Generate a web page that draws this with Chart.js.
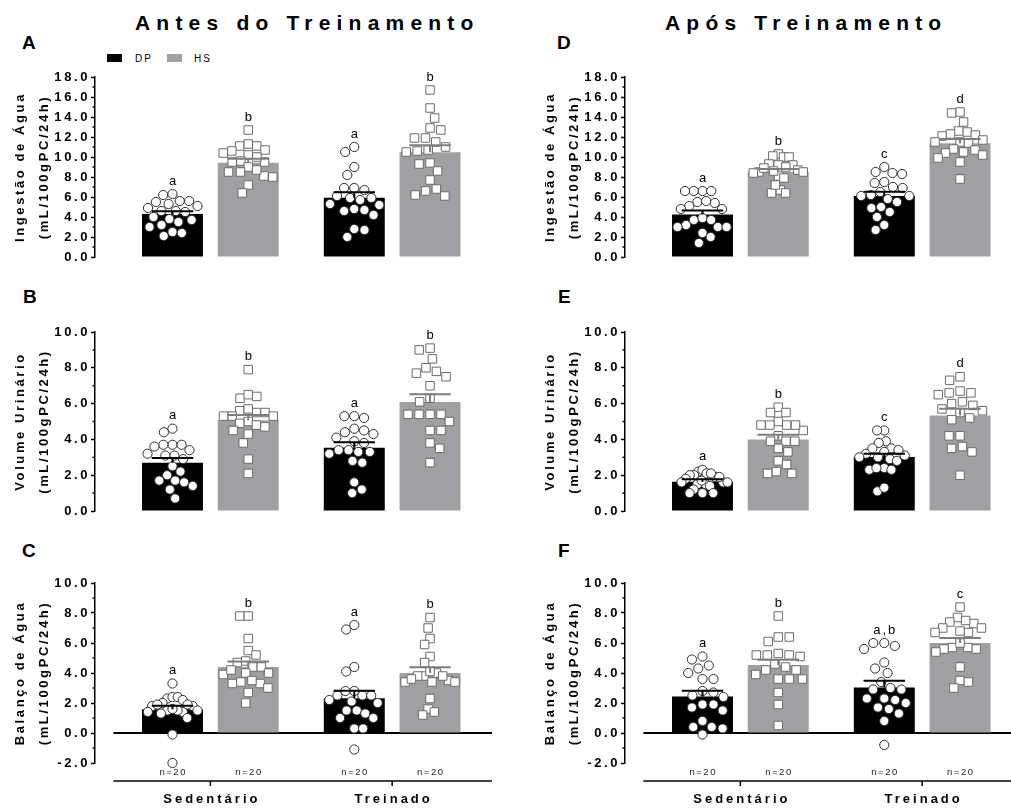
<!DOCTYPE html>
<html lang="pt">
<head>
<meta charset="utf-8">
<title>Ingestão de água, volume urinário e balanço de água</title>
<script src="https://cdn.jsdelivr.net/npm/chart.js@4.4.1/dist/chart.umd.min.js"></script>
<style>
  html, body { margin: 0; padding: 0; overflow: hidden; background: #fff; }
  body { position: relative; width: 1011px; height: 809px; font-family: 'Liberation Sans', Arial, sans-serif; color: #000; }
  canvas { position: absolute; }
  .head { position: absolute; top: 12px; font-size: 21px; font-weight: bold; line-height: 21px; letter-spacing: 6.2px; white-space: nowrap; }
  .tag { position: absolute; font-size: 19px; font-weight: bold; line-height: 19px; }
  .key { position: absolute; top: 54px; width: 15px; height: 8px; }
  .keytxt { position: absolute; top: 53px; font-size: 10px; line-height: 12px; letter-spacing: 2px; color: #000; }
</style>
</head>
<body>
<div class="head" style="left:135px">Antes do Treinamento</div>
<div class="head" style="left:665px">Após Treinamento</div>

<div class="tag" style="left:22px;top:33px">A</div>
<div class="tag" style="left:23px;top:287px">B</div>
<div class="tag" style="left:22px;top:541px">C</div>
<div class="tag" style="left:557px;top:33px">D</div>
<div class="tag" style="left:558px;top:287px">E</div>
<div class="tag" style="left:558px;top:541px">F</div>

<div class="key" style="left:107px;background:#000"></div>
<div class="keytxt" style="left:135px">DP</div>
<div class="key" style="left:167px;background:#a0a0a4"></div>
<div class="keytxt" style="left:194px">HS</div>

<canvas id="cA" width="500" height="210" style="left:0;top:60px"></canvas>
<canvas id="cD" width="500" height="210" style="left:530px;top:60px"></canvas>
<canvas id="cB" width="500" height="205" style="left:0;top:315px"></canvas>
<canvas id="cE" width="500" height="205" style="left:530px;top:315px"></canvas>
<canvas id="cC" width="500" height="243" style="left:0;top:566px"></canvas>
<canvas id="cF" width="500" height="243" style="left:530px;top:566px"></canvas>

<script>
// categorias
const groups = ['Sedentário', 'Treinado'];
const series = ['DP', 'HS'];
const counts = ['n=20', 'n=20', 'n=20', 'n=20'];

const intakeTitle = ['Ingestão de Água', '(mL/100gPC/24h)'];
const urineTitle = ['Volume Urinário', '(mL/100gPC/24h)'];
const balanceTitle = ['Balanço de Água', '(mL/100gPC/24h)'];

// ordem das barras: DP-Sed, HS-Sed, DP-Tre, HS-Tre
// A - ingestão, antes do treinamento
const aMean = [4.3, 9.43, 5.93, 10.47];
const aSem = [0.27, 0.4, 0.55, 0.7];
const aLetters = ['a', 'b', 'a', 'b'];
const aDpSed = [6.2, 6.3, 5.6, 5.3, 5.1, 5.5, 5.6, 4.9, 4.6, 4.6, 4.5, 4.0, 3.7, 3.5, 3.8, 3.2, 3.0, 2.5, 2.4, 2.1];
const aHsSed = [12.7, 11.1, 11.1, 11.3, 10.2, 10.6, 10.7, 10.4, 9.6, 9.5, 9.5, 10.0, 9.0, 8.5, 8.1, 8.0, 8.5, 8.7, 7.2, 6.4];
const aDpTre = [11.0, 10.5, 9.0, 8.2, 6.7, 6.9, 6.9, 6.1, 5.9, 5.7, 5.9, 5.3, 5.2, 4.8, 4.6, 4.7, 4.2, 2.8, 2.7, 2.0];
const aHsTre = [16.7, 14.9, 13.9, 12.9, 12.7, 11.5, 11.9, 11.9, 10.5, 10.7, 11.0, 10.6, 9.3, 9.4, 8.6, 7.7, 6.6, 6.8, 6.1, 6.2];

// B - volume urinário, antes
const bMean = [2.7, 5.07, 3.54, 6.09];
const bSem = [0.26, 0.3, 0.3, 0.43];
const bLetters = ['a', 'b', 'a', 'b'];
const bDpSed = [4.6, 4.4, 3.7, 3.4, 3.7, 3.6, 3.7, 3.1, 3.1, 3.2, 2.9, 2.2, 2.5, 1.7, 1.6, 1.4, 1.2, 2.0, 0.7, 1.7];
const bHsSed = [7.9, 6.4, 6.3, 6.5, 5.6, 5.5, 5.5, 5.7, 5.3, 5.0, 4.8, 4.7, 4.9, 5.3, 5.3, 4.5, 4.3, 3.8, 2.9, 2.1];
const bDpTre = [5.3, 5.3, 5.2, 4.6, 4.5, 4.4, 4.3, 4.1, 3.8, 3.9, 3.4, 3.3, 3.2, 3.3, 3.4, 2.8, 2.7, 1.6, 1.2, 1.0];
const bHsTre = [9.1, 9.0, 8.5, 8.0, 7.7, 7.8, 7.5, 7.0, 6.3, 6.1, 5.4, 5.4, 5.4, 5.4, 5.0, 4.5, 4.5, 3.8, 3.5, 2.7];

// C - balanço, antes
const cMean = [1.58, 4.4, 2.31, 4.0];
const cSem = [0.24, 0.36, 0.5, 0.38];
const cLetters = ['a', 'b', 'a', 'b'];
const cDpSed = [3.3, 2.3, 2.4, 2.4, 2.0, 2.2, 1.8, 1.8, 1.9, 1.9, 1.4, 1.5, 1.4, 1.5, 1.5, 1.3, 1.0, 1.6, -0.1, -2.0];
const cHsSed = [7.8, 7.8, 6.3, 5.5, 5.2, 4.7, 4.8, 4.4, 4.4, 4.0, 3.9, 4.0, 4.2, 3.4, 3.3, 3.0, 3.3, 3.5, 2.7, 2.0];
const cDpTre = [7.2, 6.9, 4.1, 4.4, 2.8, 2.8, 2.5, 2.5, 2.5, 2.0, 2.2, 2.1, 1.5, 1.3, 1.5, 1.0, 1.0, 0.3, 0.3, -1.1];
const cHsTre = [7.7, 7.0, 6.3, 5.9, 5.1, 4.7, 3.8, 4.0, 4.1, 3.8, 3.5, 3.4, 3.4, 3.4, 3.6, 1.6, 2.3, 1.2, 1.4, 3.8];

// D - ingestão, após
const dMean = [4.25, 8.5, 6.09, 11.37];
const dSem = [0.4, 0.3, 0.43, 0.43];
const dLetters = ['a', 'b', 'c', 'd'];
const dDpSed = [6.6, 6.6, 6.6, 6.6, 5.5, 5.1, 4.8, 4.8, 5.4, 5.6, 3.7, 3.9, 3.2, 3.0, 3.0, 3.0, 3.7, 2.4, 2.0, 1.4];
const dHsSed = [10.3, 10.1, 10.0, 10.0, 9.2, 9.3, 9.2, 8.7, 8.5, 8.1, 7.9, 8.4, 8.5, 9.0, 6.7, 6.4, 6.4, 7.2, 8.9, 8.6];
const dDpTre = [9.0, 8.4, 8.3, 8.5, 7.0, 7.5, 7.4, 6.9, 6.5, 5.5, 6.2, 5.8, 6.1, 6.1, 5.0, 4.9, 4.0, 4.5, 3.2, 2.7];
const dHsTre = [14.5, 14.4, 13.5, 12.5, 12.6, 12.2, 12.1, 12.3, 11.7, 11.5, 11.5, 11.4, 10.5, 10.7, 10.8, 10.4, 9.9, 10.2, 9.5, 7.8];

// E - volume urinário, após
const eMean = [1.64, 3.99, 3.02, 5.34];
const eSem = [0.13, 0.27, 0.18, 0.37];
const eLetters = ['a', 'b', 'c', 'd'];
const eDpSed = [2.2, 2.3, 2.1, 2.0, 1.9, 2.0, 2.1, 1.8, 1.6, 1.6, 1.5, 1.5, 1.4, 1.7, 1.6, 1.2, 1.0, 1.0, 1.0, 1.9];
const eHsSed = [5.8, 5.5, 5.5, 5.0, 4.8, 4.8, 4.5, 4.8, 4.8, 4.2, 3.9, 3.5, 3.3, 3.9, 3.9, 2.8, 2.6, 2.2, 2.1, 2.1];
const eDpTre = [4.5, 4.5, 3.9, 3.8, 3.2, 3.5, 3.5, 3.3, 2.9, 3.1, 3.0, 3.0, 2.8, 2.4, 2.3, 2.3, 2.4, 1.1, 1.3, 3.4];
const eHsTre = [7.3, 7.5, 6.6, 6.6, 6.7, 6.5, 6.1, 5.9, 6.0, 5.6, 5.7, 5.5, 5.2, 5.1, 4.2, 4.2, 3.5, 3.3, 3.6, 2.0];

// F - balanço, após
const fMean = [2.44, 4.53, 3.04, 6.0];
const fSem = [0.38, 0.36, 0.45, 0.33];
const fLetters = ['a', 'b', 'a,b', 'c'];
const fDpSed = [5.1, 4.9, 4.3, 4.5, 4.0, 3.6, 3.6, 2.7, 2.8, 2.4, 2.5, 1.9, 1.7, 1.9, 1.5, 0.8, 0.4, 0.3, 0.4, -0.1];
const fHsSed = [7.8, 6.4, 6.1, 6.4, 5.3, 5.2, 5.1, 4.6, 5.2, 5.2, 4.4, 4.2, 4.2, 3.9, 3.6, 3.6, 3.6, 2.7, 1.9, 0.5];
const fDpTre = [6.0, 5.8, 5.6, 6.0, 4.7, 4.0, 4.3, 3.4, 2.9, 2.9, 3.0, 2.3, 2.0, 1.6, 1.7, 2.2, 2.3, 1.3, 0.8, -0.8];
const fHsTre = [8.4, 7.7, 7.3, 7.5, 7.4, 7.0, 6.7, 6.7, 6.8, 7.0, 5.7, 5.6, 5.4, 5.6, 5.7, 6.0, 4.4, 3.5, 3.4, 3.0];

const FONT = "'Liberation Sans', Arial, Helvetica, sans-serif";
const GROUP_STEP = 2.4;      // distancia entre grupos, em larguras de barra
const SPACING = '2.6px';
const BAR_COLORS = ['#000000', '#a0a0a4'];
const ERR_COLORS = ['#000000', '#7d7d7d'];
const slotOf = i => Math.floor(i / 2) * GROUP_STEP + (i % 2);

const panels = [
  { id: 'cA', mean: aMean, sem: aSem, letters: aLetters, points: [aDpSed, aHsSed, aDpTre, aHsTre], min: 0, max: 18, title: intakeTitle, pad: [17, 13], axis: false },
  { id: 'cB', mean: bMean, sem: bSem, letters: bLetters, points: [bDpSed, bHsSed, bDpTre, bHsTre], min: 0, max: 10, title: urineTitle, pad: [17, 9], axis: false },
  { id: 'cC', mean: cMean, sem: cSem, letters: cLetters, points: [cDpSed, cHsSed, cDpTre, cHsTre], min: -2, max: 10, title: balanceTitle, pad: [17, 46], axis: true },
  { id: 'cD', mean: dMean, sem: dSem, letters: dLetters, points: [dDpSed, dHsSed, dDpTre, dHsTre], min: 0, max: 18, title: intakeTitle, pad: [17, 13], axis: false },
  { id: 'cE', mean: eMean, sem: eSem, letters: eLetters, points: [eDpSed, eHsSed, eDpTre, eHsTre], min: 0, max: 10, title: urineTitle, pad: [17, 9], axis: false },
  { id: 'cF', mean: fMean, sem: fSem, letters: fLetters, points: [fDpSed, fHsSed, fDpTre, fHsTre], min: -2, max: 10, title: balanceTitle, pad: [17, 46], axis: true }
];

function spacedText(ctx, txt, x, y, spacing) {
  ctx.letterSpacing = spacing + 'px';
  ctx.fillText(txt, x + spacing / 2, y);
}

// minor ticks, zero line, error bars, letters and the category axis
const decor = {
  id: 'decor',
  beforeDraw(chart) {
    chart.ctx.letterSpacing = SPACING;
  },
  beforeDatasetsDraw(chart, args, opts) {
    const { ctx, chartArea, scales: { x, y } } = chart;
    ctx.save();
    ctx.strokeStyle = '#000';
    ctx.lineWidth = 1.5;
    for (let v = y.min + 1; v < y.max; v += 2) {
      const py = y.getPixelForValue(v);
      ctx.beginPath();
      ctx.moveTo(chartArea.left - 2.5, py);
      ctx.lineTo(chartArea.left, py);
      ctx.stroke();
    }
    if (y.min < 0) {
      const py = y.getPixelForValue(0);
      ctx.lineWidth = 2;
      ctx.beginPath();
      ctx.moveTo(x.getPixelForValue(-0.78), py);
      ctx.lineTo(chartArea.right, py);
      ctx.stroke();
    }
    ctx.restore();
  },
  afterDatasetsDraw(chart, args, opts) {
    const { ctx, chartArea, scales: { x, y } } = chart;
    ctx.save();
    chart.data.datasets.forEach((ds, di) => {
      if (ds.type !== 'bar') return;
      const meta = chart.getDatasetMeta(di);
      meta.data.forEach((bar, k) => {
        const top = y.getPixelForValue(ds.data[k].y + ds.sem[k]);
        const half = bar.width * 0.34;
        ctx.strokeStyle = ds.errColor;
        ctx.lineWidth = 2;
        ctx.beginPath();
        ctx.moveTo(bar.x, bar.y);
        ctx.lineTo(bar.x, top);
        ctx.moveTo(bar.x - half, top);
        ctx.lineTo(bar.x + half, top);
        ctx.stroke();
      });
    });

    ctx.fillStyle = '#000';
    ctx.textAlign = 'center';
    ctx.textBaseline = 'middle';
    ctx.font = '13px ' + FONT;
    opts.letters.forEach((txt, i) => {
      const ds = chart.data.datasets.find(d => d.type === 'scatter' && d.slot === slotOf(i));
      const py = y.getPixelForValue(Math.max(...ds.values)) - 13;
      spacedText(ctx, txt, x.getPixelForValue(slotOf(i)), py, txt.length > 1 ? 2 : 0);
    });

    if (opts.axis) {
      ctx.font = '9.5px ' + FONT;
      ctx.fillStyle = '#222';
      counts.forEach((c, i) => spacedText(ctx, c, x.getPixelForValue(slotOf(i)), chartArea.bottom + 9, 1.5));

      const lineY = chartArea.bottom + 18;
      ctx.strokeStyle = '#000';
      ctx.lineWidth = 1.5;
      ctx.beginPath();
      ctx.moveTo(x.getPixelForValue(-0.78), lineY);
      ctx.lineTo(chartArea.right, lineY);
      ctx.stroke();
      ctx.fillStyle = '#000';
      ctx.font = 'bold 13px ' + FONT;
      groups.forEach((g, k) => {
        const cx = (x.getPixelForValue(slotOf(2 * k)) + x.getPixelForValue(slotOf(2 * k + 1))) / 2;
        ctx.beginPath();
        ctx.moveTo(cx, lineY);
        ctx.lineTo(cx, lineY + 5);
        ctx.stroke();
        spacedText(ctx, g, cx, lineY + 18, 3);
      });
    }
    ctx.restore();
  }
};

function buildPanel(p) {
  const datasets = [];
  p.points.forEach((vals, i) => {
    const hs = i % 2 === 1;
    datasets.push({
      type: 'scatter',
      order: 0,
      values: vals,
      slot: slotOf(i),
      data: vals.map(v => ({ x: slotOf(i), y: v })),
      pointStyle: hs ? 'rect' : 'circle',
      pointRadius: hs ? 6 : 4.6,
      pointHoverRadius: hs ? 6 : 4.6,
      pointBackgroundColor: '#ffffff',
      pointBorderColor: hs ? '#6a6a6a' : '#2e2e2e',
      pointBorderWidth: 1,
      clip: false
    });
  });
  series.forEach((name, s) => {
    datasets.push({
      type: 'bar',
      label: name,
      order: 1,
      data: groups.map((g, k) => ({ x: slotOf(2 * k + s), y: p.mean[2 * k + s] })),
      sem: groups.map((g, k) => p.sem[2 * k + s]),
      errColor: ERR_COLORS[s],
      backgroundColor: BAR_COLORS[s],
      borderWidth: 0,
      grouped: false,
      barPercentage: 0.805,
      categoryPercentage: 1
    });
  });

  return new Chart(document.getElementById(p.id), {
    type: 'bar',
    data: { datasets },
    options: {
      responsive: false,
      animation: false,
      events: [],
      layout: { padding: { left: 0, right: 8, top: p.pad[0], bottom: p.pad[1] } },
      plugins: {
        legend: { display: false },
        tooltip: { enabled: false },
        decor: { letters: p.letters, axis: p.axis }
      },
      scales: {
        x: {
          type: 'linear',
          display: false,
          offset: false,
          min: -1.023,
          max: 4.218,
          afterBuildTicks: s => { s.ticks = [{ value: 0.5 }, { value: 0.5 + GROUP_STEP }]; }
        },
        y: {
          min: p.min,
          max: p.max,
          afterFit: s => { s.width = 95; },
          border: { display: true, color: '#000', width: 1.5 },
          grid: { display: true, drawOnChartArea: false, drawTicks: true, tickLength: 4, tickWidth: 1.5, tickColor: '#000' },
          ticks: {
            stepSize: 2,
            padding: 1,
            color: '#000',
            font: { family: FONT, size: 13, weight: 'bold' },
            callback: v => v.toFixed(1)
          },
          title: {
            display: true,
            text: p.title,
            color: '#000',
            padding: { top: 8, bottom: 0 },
            font: { family: FONT, size: 13, weight: 'bold', lineHeight: 1.85 }
          }
        }
      }
    },
    plugins: [decor]
  });
}

// beeswarm: spread points sideways in pixel space, then squeeze into the column width
function swarm(values, yScale, d, maxHalf) {
  const placed = [];
  const out = new Array(values.length);
  const order = values.map((v, i) => i).sort((a, b) => values[b] - values[a]);
  let flip = false;
  for (const i of order) {
    const py = yScale.getPixelForValue(values[i]);
    const cands = [0];
    placed.forEach(p => {
      const dy = Math.abs(p.y - py);
      if (dy < d) {
        const dx = Math.sqrt(d * d - dy * dy);
        cands.push(p.x + dx, p.x - dx);
      }
    });
    cands.sort((a, b) => Math.abs(a) - Math.abs(b) || (flip ? a - b : b - a));
    const px = cands.find(c => placed.every(p => (p.x - c) ** 2 + (p.y - py) ** 2 >= d * d - 0.01));
    placed.push({ x: px, y: py });
    out[i] = px;
    flip = !flip;
  }
  const widest = Math.max(...out.map(Math.abs));
  const k = widest > maxHalf ? maxHalf / widest : 1;
  return out.map(v => v * k);
}

function spreadPoints(chart) {
  const xs = chart.scales.x;
  const ys = chart.scales.y;
  const unit = xs.getPixelForValue(1) - xs.getPixelForValue(0);
  chart.data.datasets.forEach(ds => {
    if (ds.type !== 'scatter') return;
    const offs = swarm(ds.values, ys, 11, 25);
    ds.data = ds.values.map((v, i) => ({ x: ds.slot + offs[i] / unit, y: v }));
  });
  chart.update('none');
}

document.fonts.ready.then(() => {
  panels.map(buildPanel).forEach(spreadPoints);
});
</script>
</body>
</html>
